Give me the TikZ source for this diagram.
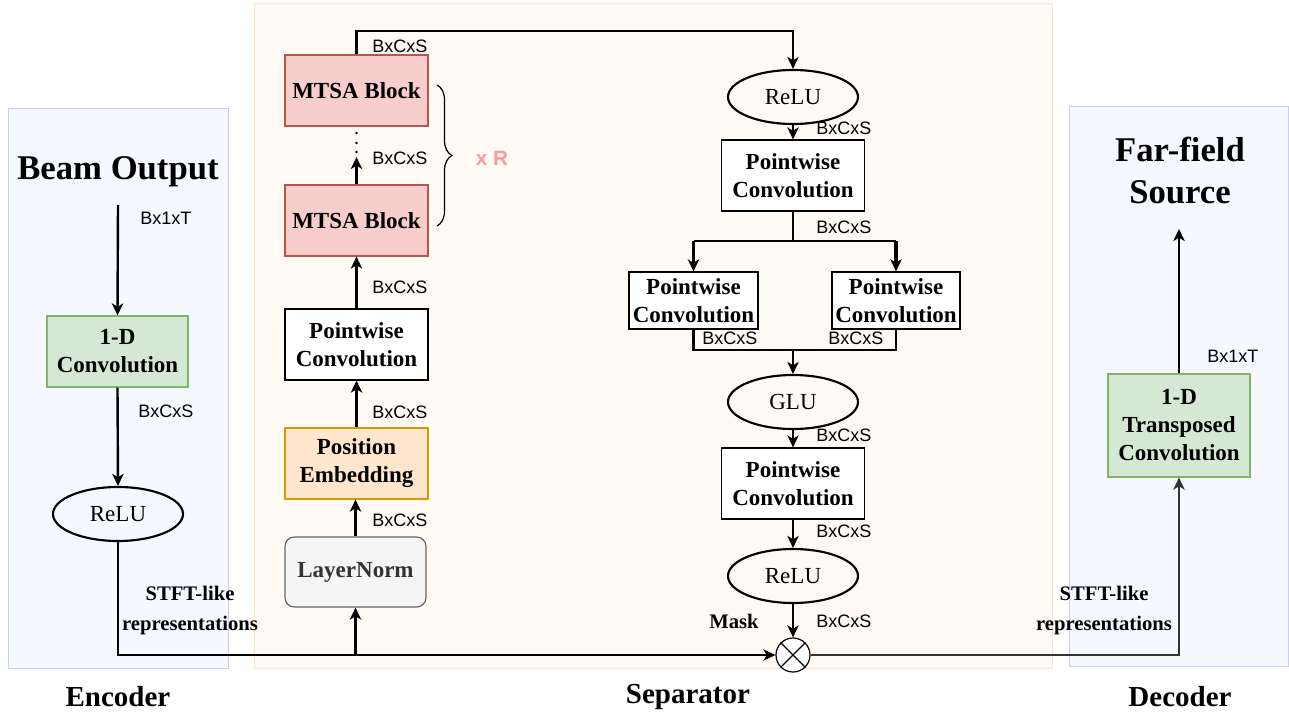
\documentclass[tikz,border=0pt]{standalone}
\usepackage{fontspec}
\setmainfont{Liberation Serif}
\setsansfont{Liberation Sans}
\usetikzlibrary{arrows.meta,shapes.geometric,decorations.pathreplacing}
\definecolor{encfill}{HTML}{F5F8FE}
\definecolor{encdraw}{HTML}{CCCCF8}
\definecolor{sepfill}{HTML}{FFFAF3}
\definecolor{sepdraw}{HTML}{FBE6C4}
\definecolor{gfill}{HTML}{D5E8D4}
\definecolor{gdraw}{HTML}{82B366}
\definecolor{rfill}{HTML}{F8CECC}
\definecolor{rdraw}{HTML}{B85450}
\definecolor{ofill}{HTML}{FFE6CC}
\definecolor{odraw}{HTML}{D79B00}
\definecolor{lfill}{HTML}{F5F5F5}
\definecolor{ldraw}{HTML}{666666}
\definecolor{ltext}{HTML}{333333}
\definecolor{xr}{HTML}{FF9999}
\definecolor{dline}{HTML}{333333}
\newcommand\boxfont{\fontsize{17.25}{21}\selectfont\bfseries}
\newcommand\ellfont{\fontsize{17.25}{21}\selectfont}
\newcommand\dimfont{\sffamily\fontsize{13.5}{16}\selectfont}
\newcommand\titfont{\fontsize{26}{31.5}\selectfont\bfseries}
\newcommand\secfont{\fontsize{21.75}{26}\selectfont\bfseries}
\newcommand\stftfont{\fontsize{15.5}{22.5}\selectfont\bfseries}
\tikzset{
  blk/.style={draw, line width=0.9pt, align=center, inner sep=0pt, font=\boxfont},
  ell/.style={draw, ellipse, line width=1.6pt, inner sep=0pt, font=\ellfont,
    minimum width=130*0.75pt, minimum height=54*0.75pt},
  tip/.style={-{Stealth[length=9pt,width=8.5pt,inset=2.5pt]}},
  conn/.style={line width=1.8pt, tip},
  wire/.style={line width=1.8pt},
  dimlbl/.style={anchor=west, inner sep=0pt, font=\dimfont},
  bg/.style={line width=0.75pt}
}
\begin{document}
\begin{tikzpicture}[x=0.75pt,y=-0.75pt]
\useasboundingbox (0,0) rectangle (1289,717);
% backgrounds
\filldraw[bg, fill=encfill, draw=encdraw] (8,109) rectangle (228,668);
\filldraw[bg, fill=sepfill, draw=sepdraw] (254,4) rectangle (1052,668);
\filldraw[bg, fill=encfill, draw=encdraw] (1069,107) rectangle (1288,666);

% encoder
\node[font=\titfont] (beam) at (118,172) {Beam Output};
\node[blk, fill=gfill, draw=gdraw, minimum width=141*0.75pt, minimum height=71*0.75pt] (conv) at (117.5,351.5) {1-D\\Convolution};
\node[ell] (relu1) at (118,514) {ReLU};
\coordinate (beamout) at (118,205);
\draw[conn] (beamout) -- (conv.north);
\draw[conn] (conv.south) -- (relu1.north);
\node[dimlbl] (d1) at (140,218) {Bx1xT};
\node[dimlbl] (d2) at (138,411) {BxCxS};
\node[font=\stftfont, align=center] (stft1) at (190,611) {STFT-like\\representations};
\node[font=\secfont] (enc) at (118,697) {Encoder};

% separator left column
\node[blk, fill=lfill, draw=ldraw, text=ltext, rounded corners=7pt, minimum width=141*0.75pt, minimum height=70*0.75pt] (ln) at (355.5,572) {LayerNorm};
\node[blk, fill=ofill, draw=odraw, minimum width=143*0.75pt, minimum height=71*0.75pt] (pe) at (356.5,463.5) {Position\\Embedding};
\node[blk, fill=white, minimum width=143*0.75pt, minimum height=71*0.75pt] (pw1) at (356.5,344.5) {Pointwise\\Convolution};
\node[blk, fill=rfill, draw=rdraw, minimum width=143*0.75pt, minimum height=71*0.75pt] (mtsa1) at (356.5,220.5) {MTSA Block};
\node[blk, fill=rfill, draw=rdraw, minimum width=143*0.75pt, minimum height=71*0.75pt] (mtsa2) at (356.5,90.5) {MTSA Block};

% right column
\node[ell] (relu2) at (793,97) {ReLU};
\node[blk, fill=white, minimum width=143*0.75pt, minimum height=71*0.75pt] (pw2) at (793,175.5) {Pointwise\\Convolution};
\node[blk, fill=white, minimum width=129*0.75pt, minimum height=57*0.75pt] (pw3) at (693.5,300.5) {Pointwise\\Convolution};
\node[blk, fill=white, minimum width=128*0.75pt, minimum height=57*0.75pt] (pw4) at (896,300.5) {Pointwise\\Convolution};
\node[ell] (glu) at (793,402) {GLU};
\node[blk, fill=white, minimum width=143*0.75pt, minimum height=71*0.75pt] (pw5) at (793,483.5) {Pointwise\\Convolution};
\node[ell] (relu3) at (793,576) {ReLU};
\node[draw, circle, line width=0.9pt, fill=white, minimum size=34*0.75pt, inner sep=0pt] (mul) at (793,655) {};
\draw[line width=0.9pt] (mul.45) -- (mul.225) (mul.135) -- (mul.315);

% decoder
\node[blk, fill=gfill, draw=gdraw, minimum width=142*0.75pt, minimum height=103*0.75pt] (tconv) at (1179,425.5) {1-D\\Transposed\\Convolution};
\node[font=\titfont, align=center] (far) at (1180,171) {Far-field\\Source};
\coordinate (farin) at (1179,229);
\draw[conn] (tconv.north) -- (farin);
\node[dimlbl] (d3) at (1207,356) {Bx1xT};
\node[font=\stftfont, align=center] (stft2) at (1104,611) {STFT-like\\representations};
\node[font=\secfont] (dec) at (1180,697) {Decoder};

% connectors encoder -> separator
\coordinate (br) at (355.5,655);
\draw[conn] (relu1.south) |- (mul.west);
\draw[conn] (br) -- (ln.south);
\draw[conn] (ln.north) -- (ln.north |- pe.south);
\draw[conn] (pe.north) -- (pe.north |- pw1.south);
\draw[conn] (pw1.north) -- (mtsa1.south);
\coordinate (dtip) at (356.5,157);
\draw[conn] (mtsa1.north) -- (dtip);
\fill (356.5,133) circle (1.4) (356.5,143) circle (1.4) (356.5,152) circle (1.4);
\coordinate (topy) at (0,31);
\draw[conn] (mtsa2.north) -- (mtsa2.north |- topy) -| (relu2.north);

% brace
\draw[line width=0.9pt, decorate, decoration={brace, amplitude=15*0.75pt}] (437,85) -- (437,226);
\node[font=\sffamily\bfseries\fontsize{15.5}{18}\selectfont, text=xr] (xR) at (492,158) {x R};

% dim labels separator left
\node[dimlbl] at (372,46) {BxCxS};
\node[dimlbl] at (372,158) {BxCxS};
\node[dimlbl] at (372,287) {BxCxS};
\node[dimlbl] at (372,412) {BxCxS};
\node[dimlbl] at (372,520) {BxCxS};

% right column connectors
\draw[conn] (relu2.south) -- (pw2.north);
\coordinate (split) at (793,241);
\draw[wire] (pw2.south) -- (split);
\draw[wire] (pw3.north |- split) -- (pw4.north |- split);
\draw[conn] (pw3.north |- split) -- (pw3.north);
\draw[line width=2.4pt, tip] (pw4.north |- split) -- (pw4.north);
\coordinate (merge) at (793,350);
\draw[wire] (pw3.south) -- (pw3.south |- merge) -- (pw4.south |- merge) -- (pw4.south);
\draw[conn] (merge) -- (glu.north);
\draw[conn] (glu.south) -- (pw5.north);
\draw[conn] (pw5.south) -- (relu3.north);
\draw[conn] (relu3.south) -- (mul.north);
\draw[conn, draw=dline] (mul.east) -| (tconv.south);

\node[dimlbl] at (816,128) {BxCxS};
\node[dimlbl] at (816,227) {BxCxS};
\node[dimlbl] at (702,338) {BxCxS};
\node[dimlbl] at (828,338) {BxCxS};
\node[dimlbl] at (816,435) {BxCxS};
\node[dimlbl] at (816,531) {BxCxS};
\node[dimlbl] at (816,621) {BxCxS};
\node[font=\bfseries\fontsize{15.5}{18}\selectfont] (mask) at (734,621) {Mask};
\node[font=\secfont] (sep) at (688,697) {Separator};
\end{tikzpicture}
\end{document}
